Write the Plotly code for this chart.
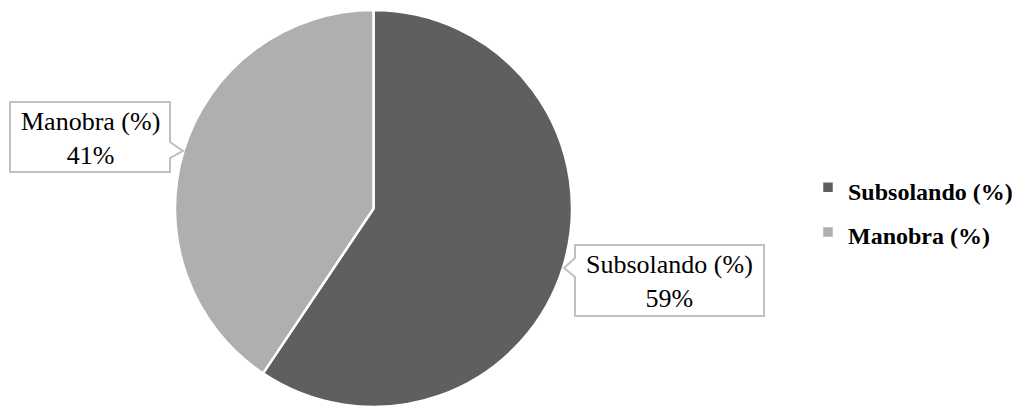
import plotly.graph_objects as go

W, H = 1025, 407

labels = ["Subsolando (%)", "Manobra (%)"]
values = [59.4, 40.6]
colors = ["#5f5f5f", "#afafaf"]

SERIF = "Liberation Serif"

# legend entries: same labels, rendered at 24px inside a taller (32px) legend row
legend_labels = [f'<span style="font-size:24px">{l}</span>' for l in labels]

fig = go.Figure()
fig.add_trace(go.Pie(
    labels=legend_labels,
    values=values,
    sort=False,
    direction="clockwise",
    rotation=0,
    marker=dict(colors=colors, line=dict(color="white", width=2.5)),
    textinfo="none",
    hovertext=labels,
    hoverinfo="text+percent",
    domain=dict(x=[175 / W, 572 / W], y=[0, 397 / H]),
    showlegend=True,
))

def px(x):
    return x / W

def py(y):
    return 1 - y / H

def callout_path(x0, y0, x1, y1, side, n0, tip, n1):
    if side == "right":
        pts = [(x0, y0), (x1, y0), (x1, n0), tip, (x1, n1), (x1, y1), (x0, y1)]
    else:
        pts = [(x0, y0), (x1, y0), (x1, y1), (x0, y1), (x0, n1), tip, (x0, n0)]
    return "M " + " L ".join(f"{px(a):.5f},{py(b):.5f}" for a, b in pts) + " Z"

shapes = [
    dict(type="path", xref="paper", yref="paper",
         path=callout_path(10, 102, 170, 172, "right", 142, (183, 151), 158),
         line=dict(color="#c0c0c0", width=2), fillcolor="white", layer="above"),
    dict(type="path", xref="paper", yref="paper",
         path=callout_path(575, 245, 764, 316, "left", 258, (564, 268), 277),
         line=dict(color="#c0c0c0", width=2), fillcolor="white", layer="above"),
]

pct = [v / sum(values) for v in values]
ann_font = dict(family=SERIF, size=26, color="#000000")
annotations = [
    dict(xref="paper", yref="paper", x=px(90), y=py(138), xanchor="center", yanchor="middle",
         text=f"{labels[1]}<br>{pct[1]:.0%}", showarrow=False, font=ann_font, align="center"),
    dict(xref="paper", yref="paper", x=px(669.5), y=py(281), xanchor="center", yanchor="middle",
         text=f"{labels[0]}<br>{pct[0]:.0%}", showarrow=False, font=ann_font, align="center"),
]

fig.update_layout(
    width=W, height=H,
    margin=dict(l=0, r=0, t=0, b=0),
    paper_bgcolor="white",
    plot_bgcolor="white",
    font=dict(family=SERIF),
    shapes=shapes,
    annotations=annotations,
    legend=dict(
        x=808 / W, y=py(210), xanchor="left", yanchor="middle",
        font=dict(family=SERIF, size=32, color="#000000", weight="bold"),
        bgcolor="rgba(0,0,0,0)",
        itemclick=False,
    ),
)

fig.write_html("out.html")
